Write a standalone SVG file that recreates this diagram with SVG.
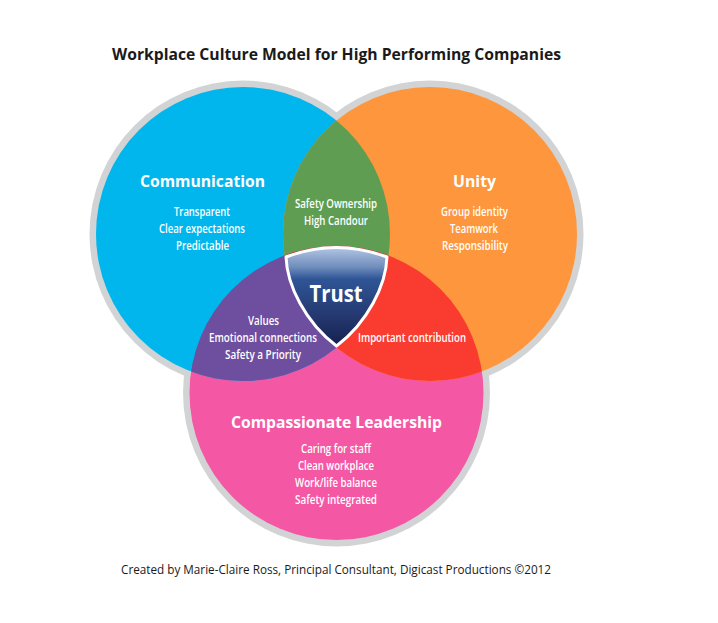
<svg xmlns="http://www.w3.org/2000/svg" width="718" height="623" viewBox="0 0 718 623">
<style>
text{font-family:"Open Sans","Liberation Sans",sans-serif;text-anchor:middle;fill:#fff}
.h{font-size:16px;font-weight:700}
.s{font-size:12px;font-weight:600}
.d{fill:#1a1a1a}
</style>
<defs>
<clipPath id="cb"><circle cx="243" cy="234" r="147"/></clipPath>
<clipPath id="cp"><circle cx="336.500" cy="393" r="147"/></clipPath>
<linearGradient id="sh" x1="0" y1="0" x2="0" y2="1">
<stop offset="0" stop-color="#b3c6e4"/><stop offset=".2" stop-color="#6f8cbc"/><stop offset=".32" stop-color="#2f5596"/><stop offset=".7" stop-color="#24386f"/><stop offset="1" stop-color="#15204f"/>
</linearGradient>
</defs>
<rect width="718" height="623" fill="#fff"/>
<text class="d" x="336.500" y="60" font-size="16.500" font-weight="700" textLength="449" lengthAdjust="spacingAndGlyphs">Workplace Culture Model for High Performing Companies</text>
<g id="rings" fill="#d2d3d5">
<circle cx="243" cy="234" r="153.500"/>
<circle cx="430" cy="234" r="153.500"/>
<circle cx="336.500" cy="393" r="153.500"/>
</g>
<g id="pink"><circle cx="336.500" cy="393" r="147" fill="#f457a3"/></g>
<g id="communication"><circle cx="243" cy="234" r="147" fill="#00b6ec"/></g>
<g id="unity"><circle cx="430" cy="234" r="147" fill="#fd963c"/></g>
<g id="overlap-green" clip-path="url(#cb)"><circle cx="430" cy="234" r="147" fill="#5f9e52"/></g>
<g id="overlap-purple" clip-path="url(#cp)"><circle cx="243" cy="234" r="147" fill="#6e4e9e"/></g>
<g id="overlap-red" clip-path="url(#cp)"><circle cx="430" cy="234" r="147" fill="#f93c2f"/></g>
<g id="trust">
<path d="M286 257Q336 238 387 257C386 285 368 322 336.500 346C305 322 287 285 286 257Z" fill="url(#sh)" stroke="#fff" stroke-width="3" stroke-linejoin="round"/>
<text x="336" y="302" font-size="23" font-weight="700" textLength="53" lengthAdjust="spacingAndGlyphs">Trust</text>
</g>
<g id="communication-text">
<text class="h" x="202.500" y="187" textLength="125" lengthAdjust="spacingAndGlyphs">Communication</text>
<text class="s" x="202" y="216" textLength="56" lengthAdjust="spacingAndGlyphs">Transparent</text>
<text class="s" x="202" y="233" textLength="86" lengthAdjust="spacingAndGlyphs">Clear expectations</text>
<text class="s" x="202.500" y="250" textLength="53" lengthAdjust="spacingAndGlyphs">Predictable</text>
</g>
<g id="green-text">
<text class="s" x="336" y="208" textLength="82" lengthAdjust="spacingAndGlyphs">Safety Ownership</text>
<text class="s" x="336" y="225" textLength="64" lengthAdjust="spacingAndGlyphs">High Candour</text>
</g>
<g id="unity-text">
<text class="h" x="474.500" y="187" textLength="43" lengthAdjust="spacingAndGlyphs">Unity</text>
<text class="s" x="474.500" y="216" textLength="67" lengthAdjust="spacingAndGlyphs">Group identity</text>
<text class="s" x="474" y="233" textLength="48" lengthAdjust="spacingAndGlyphs">Teamwork</text>
<text class="s" x="475" y="250" textLength="66" lengthAdjust="spacingAndGlyphs">Responsibility</text>
</g>
<g id="purple-text">
<text class="s" x="263.500" y="325" textLength="31" lengthAdjust="spacingAndGlyphs">Values</text>
<text class="s" x="263" y="342" textLength="108" lengthAdjust="spacingAndGlyphs">Emotional connections</text>
<text class="s" x="263" y="359" textLength="76" lengthAdjust="spacingAndGlyphs">Safety a Priority</text>
</g>
<g id="red-text">
<text class="s" x="412" y="342" textLength="108" lengthAdjust="spacingAndGlyphs">Important contribution</text>
</g>
<g id="pink-text">
<text class="h" x="336.500" y="428" textLength="211" lengthAdjust="spacingAndGlyphs">Compassionate Leadership</text>
<text class="s" x="336" y="453" textLength="70" lengthAdjust="spacingAndGlyphs">Caring for staff</text>
<text class="s" x="336" y="470" textLength="76" lengthAdjust="spacingAndGlyphs">Clean workplace</text>
<text class="s" x="336" y="487" textLength="82" lengthAdjust="spacingAndGlyphs">Work/life balance</text>
<text class="s" x="336" y="504" textLength="82" lengthAdjust="spacingAndGlyphs">Safety integrated</text>
</g>
<text class="d" x="336" y="574" font-size="12.500" textLength="430" lengthAdjust="spacingAndGlyphs">Created by Marie-Claire Ross, Principal Consultant, Digicast Productions ©2012</text>
</svg>
